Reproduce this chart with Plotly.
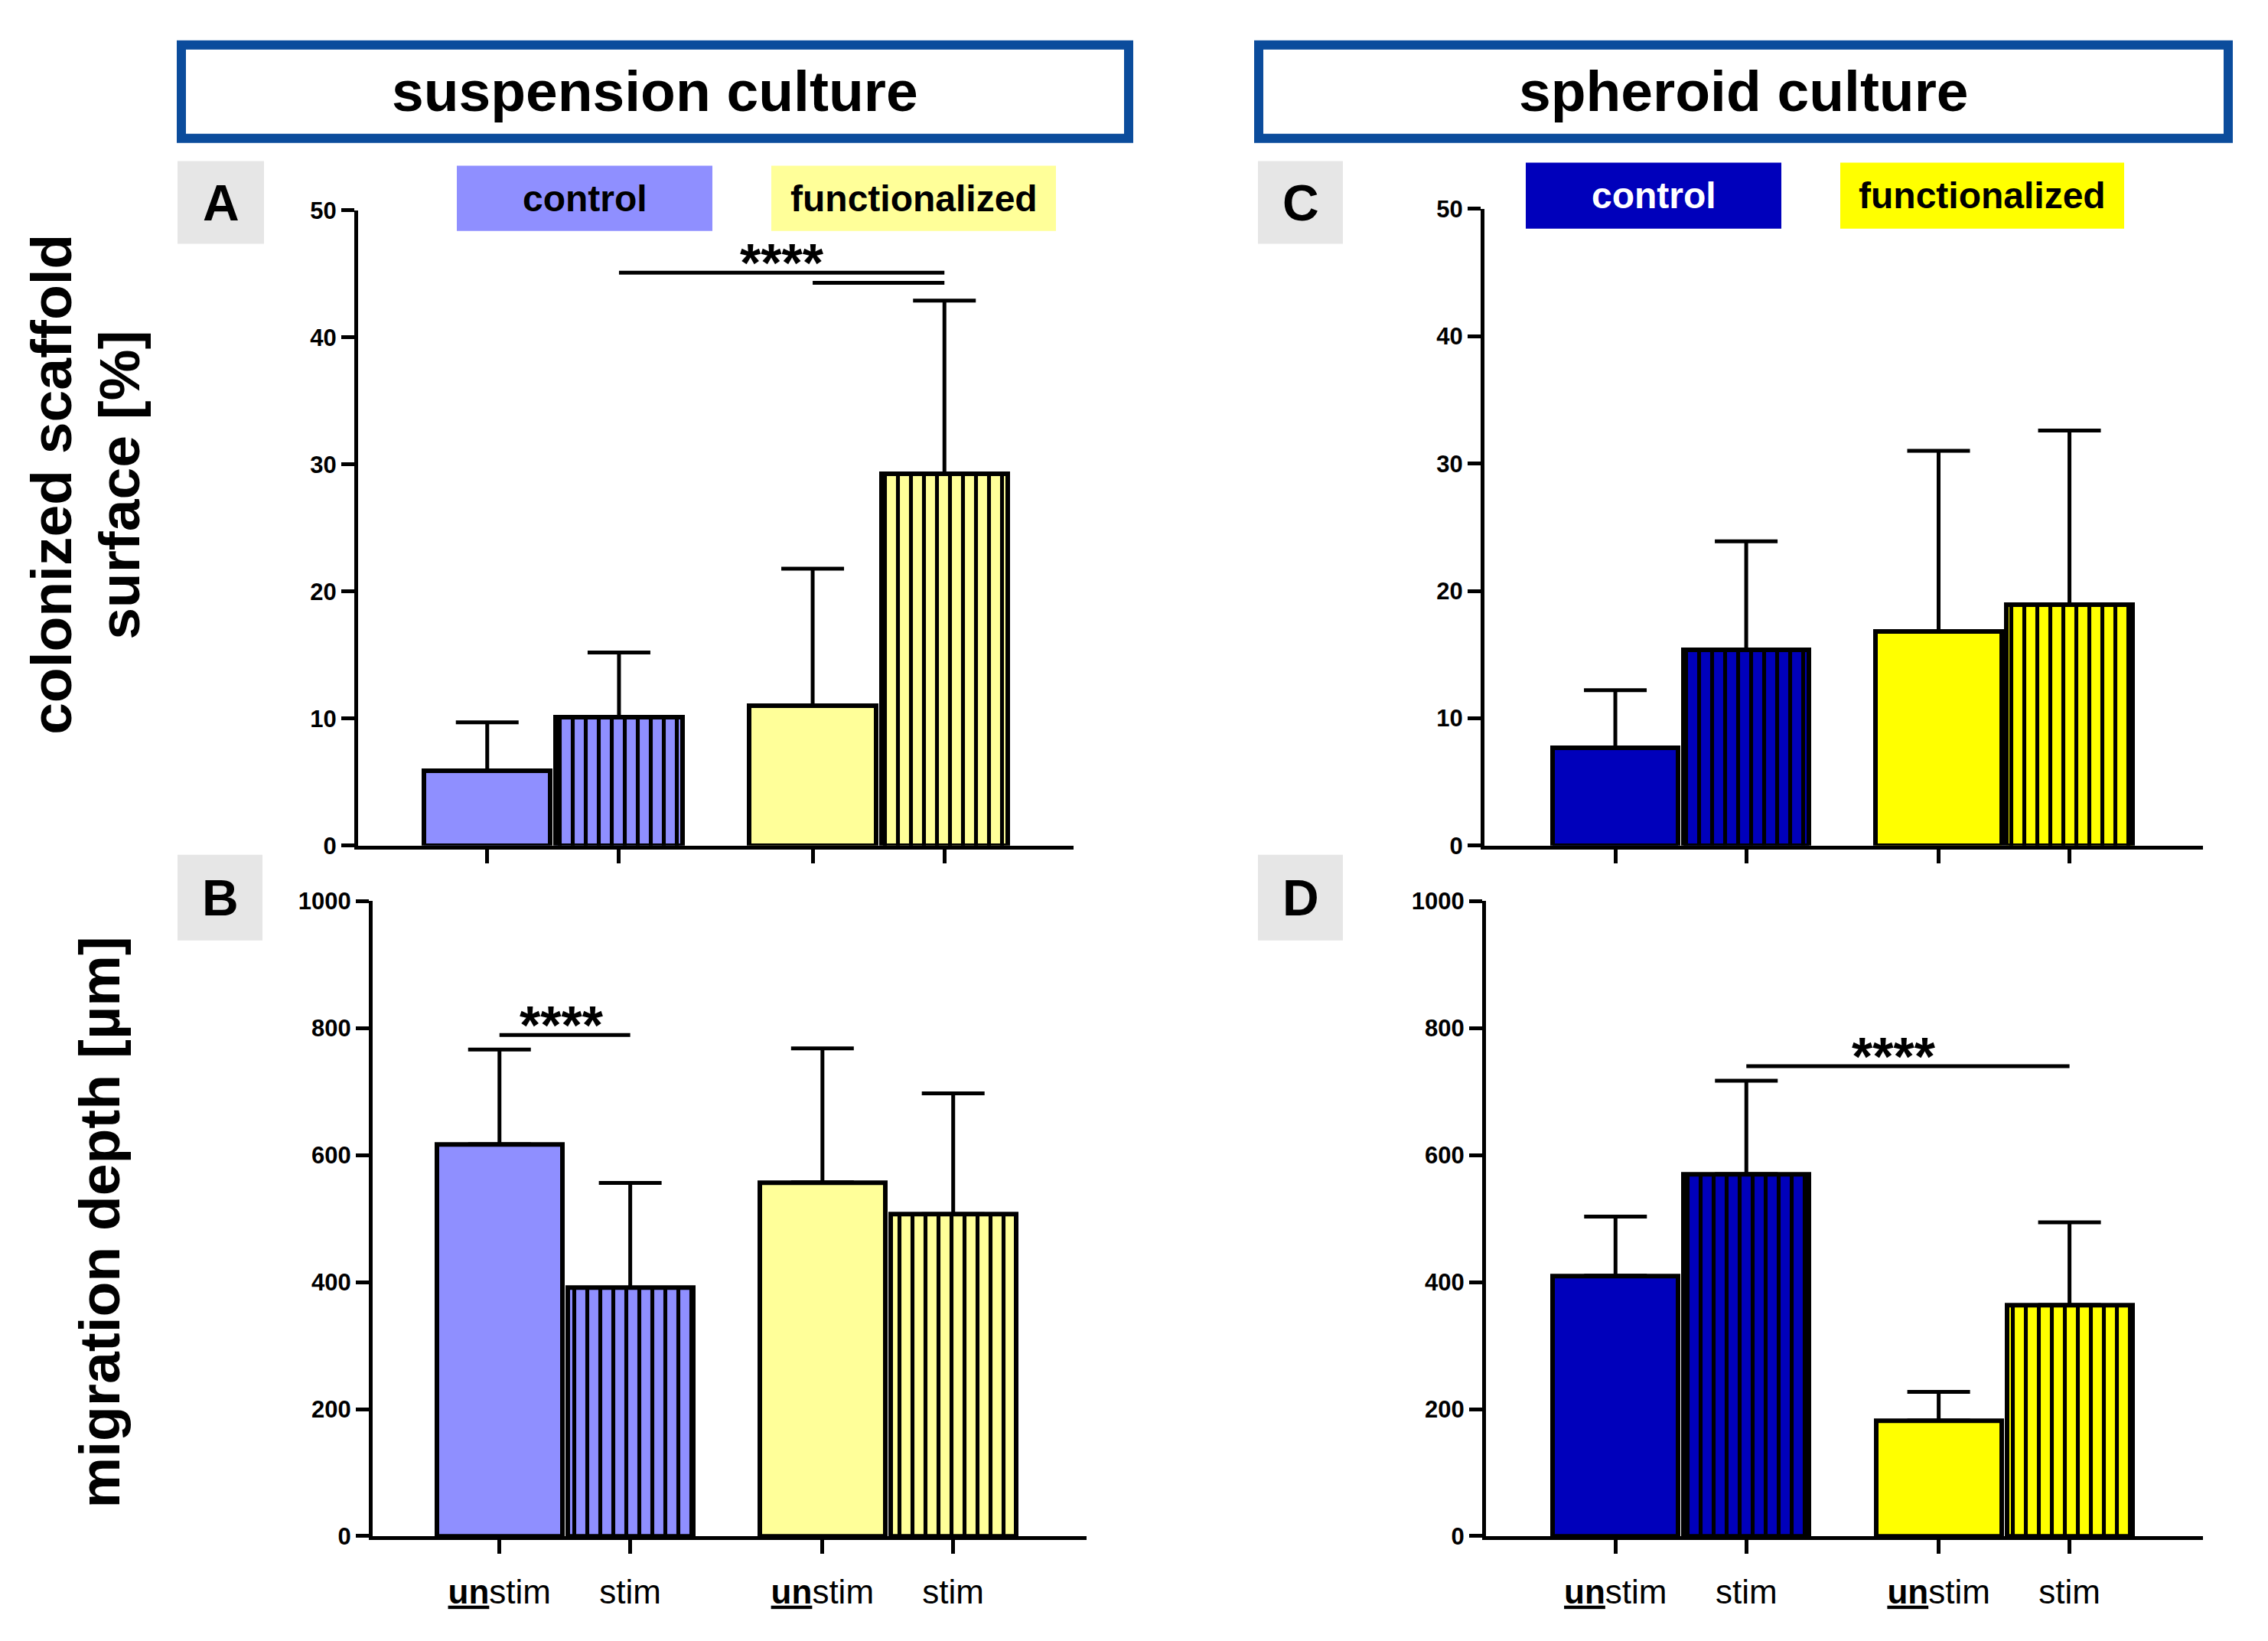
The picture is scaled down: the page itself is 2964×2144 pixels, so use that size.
import plotly.graph_objects as go

# ---------------- data ----------------
conditions = ["unstim", "stim", "unstim", "stim"]
groups = ["control", "control", "functionalized", "functionalized"]
tick_labels = ["<b><u>un</u></b>stim", "stim", "<b><u>un</u></b>stim", "stim"]

# A: suspension culture, colonized scaffold surface [%]
A_mean = [5.9, 10.1, 11.0, 29.3]
A_upper = [9.7, 15.2, 21.8, 42.9]
# B: suspension culture, migration depth [um]
B_mean = [617, 391, 557, 507]
B_upper = [766, 556, 768, 697]
# C: spheroid culture, colonized scaffold surface [%]
C_mean = [7.7, 15.4, 16.8, 18.9]
C_upper = [12.2, 23.9, 31.0, 32.6]
# D: spheroid culture, migration depth [um]
D_mean = [410, 570, 182, 364]
D_upper = [503, 717, 227, 494]

# significance brackets: (from bar, to bar, level, label)
A_sig = [(1, 3, 45.1, "****"), (2, 3, 44.3, "")]
B_sig = [(0, 1, 789, "****")]
C_sig = []
D_sig = [(1, 3, 740, "****")]

# ---------------- style ----------------
PAGE_W, PAGE_H = 2964, 2144
OFF = 8  # default body margin of the html page
W, H = PAGE_W - 2 * OFF, PAGE_H - 2 * OFF
FONT = "Liberation Sans, Arial, sans-serif"
susp_colors = ["#8F8FFF", "#8F8FFF", "#FFFF99", "#FFFF99"]
sph_colors = ["#0000BB", "#0000BB", "#FFFF00", "#FFFF00"]
patterns = ["", "|", "", "|"]
pos = [0, 1, 2.47, 3.47]
bar_w = 0.96


def px(x):
    return (x - OFF) / W


def py(y):
    y = 1.008 * y - 9
    return 1 - (y - OFF) / H


panels = [
    # name, mean, upper, colors, sig, xdomain(px), ydomain(px), xrange, yrange, dtick, ticklabels, star xshift
    ("A", A_mean, A_upper, susp_colors, A_sig, (468, 1403), (1106, 269), (-0.98, 4.45), (0, 50), 10, False, 0),
    ("B", B_mean, B_upper, susp_colors, B_sig, (487, 1420), (2016, 1179), (-0.97, 4.49), (0, 1000), 200, True, -4),
    ("C", C_mean, C_upper, sph_colors, C_sig, (1940, 2879), (1106, 267), (-1.0, 4.49), (0, 50), 10, False, 0),
    ("D", D_mean, D_upper, sph_colors, D_sig, (1942, 2879), (2016, 1179), (-0.99, 4.49), (0, 1000), 200, True, -18),
]

fig = go.Figure()
shapes = []
annotations = []

for i, (name, mean, upper, colors, sig, xd, yd, xr, yr, dt, show_lbl, sxs) in enumerate(panels):
    sfx = "" if i == 0 else str(i + 1)
    xa, ya = "x" + sfx, "y" + sfx
    # one trace per bar so that the stripe colour (black) is honoured
    for k in range(len(mean)):
        fig.add_trace(go.Bar(
            x=[pos[k]], y=[mean[k]], width=bar_w,
            name=f"{groups[k]} {conditions[k]}",
            marker=dict(
                color=colors[k],
                line=dict(color="black", width=6),
                pattern=dict(shape=patterns[k], size=17, solidity=0.3,
                             fgcolor="#000000", bgcolor=colors[k],
                             fgopacity=1, fillmode="overlay"),
            ),
            error_y=dict(type="data", symmetric=False,
                         array=[upper[k] - mean[k]], arrayminus=[0],
                         color="black", thickness=5, width=41),
            xaxis=xa, yaxis=ya, showlegend=False,
        ))
    fig.update_layout({
        ("xaxis" + sfx): dict(
            domain=[px(xd[0]), px(xd[1])], range=list(xr), anchor=ya,
            tickmode="array", tickvals=pos, ticktext=tick_labels,
            showticklabels=show_lbl, ticks="outside", ticklen=18, tickwidth=5,
            tickcolor="black", showline=True, linewidth=5, linecolor="black",
            showgrid=False, zeroline=False, ticklabelstandoff=12,
            tickfont=dict(family=FONT, size=44, color="black"),
        ),
        ("yaxis" + sfx): dict(
            domain=[py(yd[0]), py(yd[1])], range=list(yr), anchor=xa,
            dtick=dt, ticks="outside", ticklen=17, tickwidth=5, tickcolor="black",
            showline=True, linewidth=5, linecolor="black", showgrid=False,
            zeroline=False,
            tickfont=dict(family=FONT, size=31, color="black", weight="bold"),
        ),
    })
    for (a, b, lvl, lab) in sig:
        shapes.append(dict(type="line", xref=xa, yref=ya, x0=pos[a], x1=pos[b],
                           y0=lvl, y1=lvl, line=dict(color="black", width=5)))
        if lab:
            annotations.append(dict(xref=xa, yref=ya, x=(pos[a] + pos[b]) / 2, y=lvl,
                                    text=lab, showarrow=False, yanchor="middle",
                                    yshift=12, xshift=sxs,
                                    font=dict(family=FONT, size=70, color="black",
                                              weight="bold")))

# title boxes
for (x0, x1, txt) in [(231, 1481, "suspension culture"), (1639, 2918, "spheroid culture")]:
    shapes.append(dict(type="rect", xref="paper", yref="paper",
                       x0=px(x0 + 6), x1=px(x1 - 6), y0=py(180 - 6), y1=py(45 + 6),
                       line=dict(color="#0B4C9C", width=12), fillcolor="white"))
    annotations.append(dict(xref="paper", yref="paper", x=px((x0 + x1) / 2), y=py(112),
                            text=txt, showarrow=False, xanchor="center", yanchor="middle",
                            font=dict(family=FONT, size=75, color="black", weight="bold")))

# panel letters
for (x0, x1, y0, y1, lab) in [(232, 345, 204, 313, "A"), (232, 343, 1118, 1231, "B"),
                              (1644, 1755, 204, 313, "C"), (1644, 1755, 1118, 1231, "D")]:
    shapes.append(dict(type="rect", xref="paper", yref="paper",
                       x0=px(x0), x1=px(x1), y0=py(y1), y1=py(y0),
                       line=dict(width=0), fillcolor="#E6E6E6"))
    annotations.append(dict(xref="paper", yref="paper", x=px((x0 + x1) / 2), y=py((y0 + y1) / 2),
                            text=lab, showarrow=False, xanchor="center", yanchor="middle",
                            font=dict(family=FONT, size=66, color="black", weight="bold")))

# legend boxes
for (x0, x1, y0, y1, lab, fill, tc) in [
        (597, 931, 210, 296, "control", "#8F8FFF", "black"),
        (1008, 1380, 210, 296, "functionalized", "#FFFF99", "black"),
        (1994, 2328, 206, 293, "control", "#0000BB", "white"),
        (2405, 2776, 206, 293, "functionalized", "#FFFF00", "black")]:
    shapes.append(dict(type="rect", xref="paper", yref="paper",
                       x0=px(x0), x1=px(x1), y0=py(y1), y1=py(y0),
                       line=dict(width=0), fillcolor=fill))
    annotations.append(dict(xref="paper", yref="paper", x=px((x0 + x1) / 2), y=py((y0 + y1) / 2),
                            text=lab, showarrow=False, xanchor="center", yanchor="middle",
                            font=dict(family=FONT, size=48, color=tc, weight="bold")))

# y axis titles
for (xc, yc, txt) in [(67, 630, "colonized scaffold"), (156, 631, "surface [%]"),
                      (130, 1603, "migration depth [µm]")]:
    annotations.append(dict(xref="paper", yref="paper", x=px(xc), y=py(yc), text=txt,
                            textangle=-90, showarrow=False, xanchor="center", yanchor="middle",
                            font=dict(family=FONT, size=75, color="black", weight="bold")))

fig.update_layout(
    width=W, height=H, margin=dict(l=0, r=0, t=0, b=0),
    paper_bgcolor="white", plot_bgcolor="white",
    shapes=shapes, annotations=annotations, bargap=0, barmode="overlay",
)

fig.write_html("out.html")
